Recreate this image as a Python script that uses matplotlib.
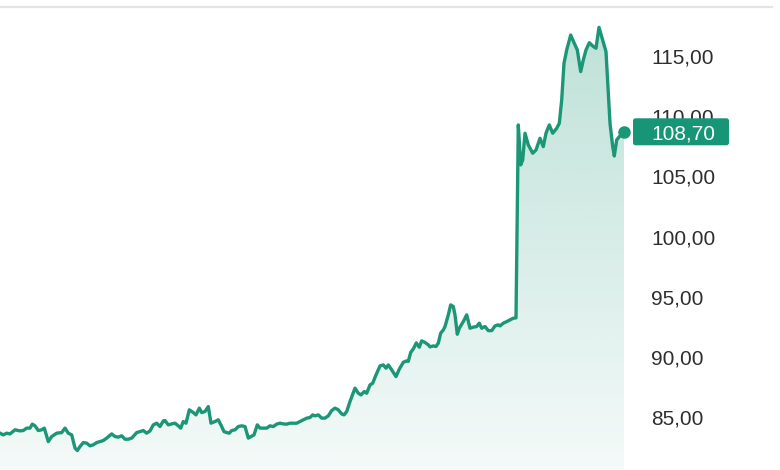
import numpy as np
import matplotlib
matplotlib.use("Agg")
import matplotlib.pyplot as plt
from matplotlib.ticker import FuncFormatter
from matplotlib.patches import Polygon, FancyBboxPatch
from matplotlib.lines import Line2D
from matplotlib.transforms import IdentityTransform

# relative time position of each observation
t = [0, 3.3, 6.7, 10, 15, 20, 23.3, 26.7, 30, 32.3, 35, 38.3, 41.7, 44.3, 48.3, 51.7, 56.7, 61.7, 65, 68.3,
     71.7, 75, 77.3, 80, 83.3, 86.7, 90, 93.3, 96.7, 100, 103.3, 106.7, 111.7, 115, 118.3, 121.7, 125, 128.3,
     131.7, 136.7, 140, 143.3, 146.7, 150, 153.3, 156.7, 160, 163.3, 165, 168.3, 171.7, 175, 178.3, 180.7,
     183.3, 186, 189.3, 193.3, 196, 199.3, 201.7, 205, 208.3, 211, 215, 218.3, 221.7, 224, 226.7, 229.3,
     231.7, 235, 238.3, 241.7, 245, 248.3, 251, 254, 257.3, 260, 263.3, 266.7, 270, 273.3, 276.7, 280,
     283.3, 286.7, 290, 293.3, 296.7, 300, 303.3, 306.7, 310, 312.7, 315, 318.3, 321.7, 325, 328.3, 331.7,
     335, 338.3, 341.7, 344, 346.7, 350, 355, 358.3, 361, 364.3, 366.7, 370, 372.7, 376, 380, 383.3, 386,
     388.3, 391.7, 396, 399.3, 403.3, 406.7, 408.3, 410.7, 413.3, 416.3, 419.3, 421.7, 425, 428.3, 430,
     433.3, 436, 438.3, 440.7, 443.3, 445, 448.3, 450.7, 453.3, 455, 457.3, 459.3, 463.3, 466.7, 470, 473.3,
     476.7, 479.3, 481.7, 485, 488.3, 491.7, 495, 498.3, 500, 503.3, 506.7, 510, 513.3, 516, 518.3, 520.7,
     522.7, 525, 528.3, 532.7, 536, 540, 543.3, 546, 549.3, 552.7, 556.7, 559.3, 561.7, 564, 566.7, 570.7,
     574, 577.3, 580.7, 583.3, 586, 589.3, 592.7, 596, 599, 601.7, 606, 608.3, 610, 612.7, 614.3, 616.7,
     619.3, 621.7, 624]

price = [83.66, 83.52, 83.66, 83.60, 83.94, 83.85, 83.88, 84.08, 84.08, 84.41, 84.27, 83.88, 83.94, 84.08,
         82.96, 83.38, 83.66, 83.71, 84.08, 83.66, 83.52, 82.42, 82.22, 82.55, 82.88, 82.83, 82.61, 82.69,
         82.88, 82.96, 83.05, 83.25, 83.60, 83.38, 83.33, 83.44, 83.16, 83.16, 83.25, 83.71, 83.79, 83.88,
         83.66, 83.85, 84.35, 84.49, 84.21, 84.68, 84.71, 84.35, 84.43, 84.49, 84.27, 84.08, 84.63, 84.49,
         85.60, 85.37, 85.18, 85.74, 85.37, 85.46, 85.87, 84.49, 84.63, 84.77, 84.21, 83.79, 83.71, 83.66,
         83.88, 83.94, 84.21, 84.27, 84.21, 83.25, 83.38, 83.52, 84.35, 84.08, 84.08, 84.08, 84.27, 84.21,
         84.41, 84.49, 84.43, 84.41, 84.49, 84.49, 84.49, 84.63, 84.77, 84.91, 84.96, 85.18, 85.10, 85.18,
         84.91, 84.91, 85.10, 85.54, 85.74, 85.60, 85.26, 85.18, 85.46, 86.29, 87.40, 86.98, 86.84, 87.12,
         86.98, 87.67, 87.81, 88.50, 89.25, 89.33, 89.06, 89.33, 88.92, 88.36, 88.98, 89.55, 89.67, 89.63,
         90.37, 90.66, 91.16, 90.80, 91.33, 91.20, 91.00, 90.83, 90.91, 90.86, 91.14, 91.97, 92.24, 92.52,
         93.49, 94.32, 94.18, 93.49, 91.88, 92.38, 92.93, 93.49, 92.38, 92.47, 92.52, 92.80, 92.38, 92.52,
         92.18, 92.18, 92.57, 92.66, 92.57, 92.80, 92.93, 93.07, 93.21, 93.24, 109.27, 105.95, 106.36,
         108.58, 107.61, 106.92, 107.19, 108.16, 107.47, 108.58, 109.27, 108.58, 108.99, 109.41, 111.35,
         114.39, 115.50, 116.74, 116.10, 115.50, 113.70, 114.67, 115.50, 116.10, 115.83, 115.64, 117.38,
         116.60, 115.36, 111.90, 109.41, 107.47, 106.69, 108.02, 108.30, 108.44, 108.70]

y_ticks = [85, 90, 95, 100, 105, 110, 115]
last_label = "108,70"

LINE = "#1b9677"
BOX = "#179577"
FONT = ["Liberation Sans", "DejaVu Sans"]

W, H = 780, 470
fig = plt.figure(figsize=(W / 100, H / 100), dpi=100)
ax = fig.add_axes([0, 0, 1, 1])
ymin, ymax = 80.6, 119.65
x_end = t[-1] * W / 624.0
ax.set_xlim(0, x_end)
ax.set_ylim(ymin, ymax)

# gradient fill under the line
grad = np.linspace(0, 1, 256).reshape(-1, 1)
rgba = np.zeros((256, 1, 4))
c = matplotlib.colors.to_rgb(LINE)
rgba[..., 0], rgba[..., 1], rgba[..., 2] = c
rgba[..., 3] = 0.05 + 0.25 * grad
im = ax.imshow(rgba, extent=[t[0], t[-1], ymin, ymax], origin="lower",
               aspect="auto", zorder=1, interpolation="bicubic")
verts = [(t[0], ymin)] + list(zip(t, price)) + [(t[-1], ymin)]
poly = Polygon(verts, closed=True, facecolor="none", edgecolor="none")
ax.add_patch(poly)
im.set_clip_path(poly)

ax.plot(t, price, color=LINE, lw=2.4, solid_joinstyle="round", zorder=3)
ax.plot([t[-1]], [price[-1]], "o", color=LINE, ms=8, zorder=4)

ax.set_xlim(0, x_end)
ax.set_ylim(ymin, ymax)

for s in ax.spines.values():
    s.set_visible(False)
ax.set_xticks([])
ax.set_yticks(y_ticks)
ax.yaxis.tick_right()
ax.yaxis.set_major_formatter(FuncFormatter(lambda v, p: f"{v:.2f}".replace(".", ",")))
ax.tick_params(axis="y", length=0, pad=-(W - 651) * 0.72, labelsize=15, labelcolor="#2e2e2e")
for lab in ax.get_yticklabels():
    lab.set_fontfamily(FONT)

# last value badge (drawn in pixel coordinates, centred on the last value)
_, yc = ax.transData.transform((t[-1], price[-1]))
badge = FancyBboxPatch((633, yc - 13.5), 96, 27, boxstyle="round,pad=0,rounding_size=2.5",
                       transform=IdentityTransform(), facecolor=BOX, edgecolor="none",
                       zorder=6, clip_on=False)
ax.add_artist(badge)
tr = ax.get_yaxis_transform()
ax.text(651 / W, price[-1], last_label, transform=tr, ha="left", va="center_baseline",
        fontsize=15, color="white", zorder=7, family=FONT)

# top separator
fig.add_artist(Line2D([0, 772 / W], [1 - 7 / H, 1 - 7 / H], transform=fig.transFigure,
                      color="#e4e4e4", lw=1.6))

fig.savefig("out.png", dpi=100)
